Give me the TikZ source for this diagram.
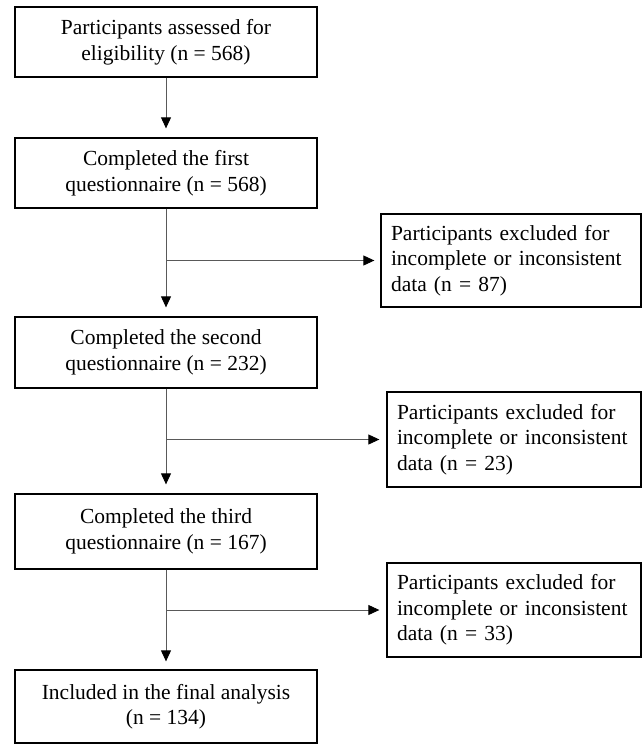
\documentclass[tikz,border=0pt]{standalone}
\usepackage{fontspec}
\setmainfont{Liberation Serif}
\usetikzlibrary{arrows.meta}
\begin{document}
\begin{tikzpicture}[x=1pt,y=-1pt,
  txt/.style={font=\fontsize{21.5}{25.5}\selectfont},
  mainbox/.style={txt, draw, line width=1.3pt, inner sep=0pt, minimum width=302pt, align=center},
  sidebox/.style={txt, draw, line width=1.3pt, inner xsep=10pt, inner ysep=0pt, align=left},
  link/.style={line width=0.9pt, draw=black!65},
  arr/.style={link, -{Triangle[length=11pt,width=10pt,color=black]}}]
\useasboundingbox (0,0) rectangle (643,744);
\node[mainbox, minimum height=70pt] (b1) at (166,42) {Participants assessed for\\eligibility (n = 568)};
\node[mainbox, minimum height=70pt] (b2) at (166,173) {Completed the first\\questionnaire (n = 568)};
\node[mainbox, minimum height=71pt] (b3) at (166,352.5) {Completed the second\\questionnaire (n = 232)};
\node[mainbox, minimum height=75pt] (b4) at (166,531.5) {Completed the third\\questionnaire (n = 167)};
\node[mainbox, minimum height=73pt] (b5) at (166,706.5) {Included in the final analysis\\(n = 134)};
\node[sidebox, text width=240pt, minimum height=93pt] (s1) at (511,260.5) {Participants excluded for\\incomplete or inconsistent\\data (n = 87)};
\node[sidebox, text width=234pt, minimum height=95pt] (s2) at (514,439.5) {Participants excluded for\\incomplete or inconsistent\\data (n = 23)};
\node[sidebox, text width=234pt, minimum height=94pt] (s3) at (514,610) {Participants excluded for\\incomplete or inconsistent\\data (n = 33)};
\draw[arr, shorten >=9pt] (b1.south) -- (b2.north);
\draw[arr, shorten >=9pt] (b2.south) -- (b3.north);
\draw[arr, shorten >=9pt] (b3.south) -- (b4.north);
\draw[arr, shorten >=8pt] (b4.south) -- (b5.north);
\coordinate (j1) at (b2.south |- s1.west);
\coordinate (j2) at (b3.south |- s2.west);
\coordinate (j3) at (b4.south |- s3.west);
\draw[arr, shorten >=6pt] (j1) -- (s1.west);
\draw[arr, shorten >=7pt] (j2) -- (s2.west);
\draw[arr, shorten >=7pt] (j3) -- (s3.west);
\end{tikzpicture}
\end{document}
